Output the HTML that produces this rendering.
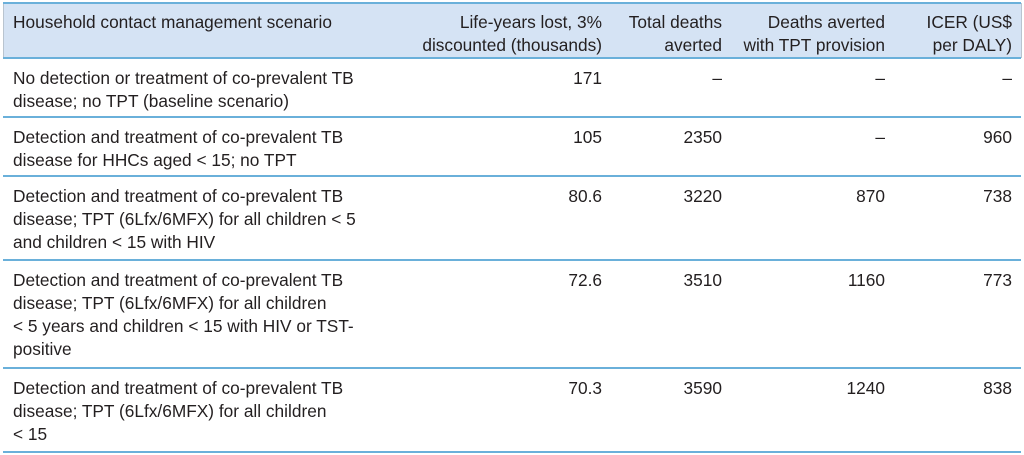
<!DOCTYPE html>
<html><head><meta charset="utf-8"><style>
body{margin:0;width:1024px;height:455px;background:#fff;position:relative;font-family:"Liberation Sans",sans-serif;font-size:17.3px;color:#231f20;overflow:hidden}
.hd{position:absolute;left:3px;top:3px;width:1017px;height:55px;background:#d5e3f4;border-left:1px solid #b9c4cf;border-right:1px solid #b9c4cf}
.ln{position:absolute;left:3px;width:1018px;height:2px;background:#6ab0da}
.t{position:absolute;line-height:23px;white-space:nowrap}
.r{text-align:right}
</style></head><body>
<div class="hd"></div>
<div class="ln" style="top:2px"></div>
<div class="ln" style="top:57px"></div>
<div class="ln" style="top:116px"></div>
<div class="ln" style="top:175px"></div>
<div class="ln" style="top:259px"></div>
<div class="ln" style="top:367px"></div>
<div class="ln" style="top:451px"></div>

<div class="t" style="left:13px;top:11px">Household contact management scenario</div>
<div class="t r" style="right:422px;top:11px">Life-years lost, 3%<br>discounted (thousands)</div>
<div class="t r" style="right:302px;top:11px">Total deaths<br>averted</div>
<div class="t r" style="right:139px;top:11px">Deaths averted<br>with TPT provision</div>
<div class="t r" style="right:12px;top:11px">ICER (US$<br>per DALY)</div>

<div class="t" style="left:13px;top:67px">No detection or treatment of co-prevalent TB<br>disease; no TPT (baseline scenario)</div>
<div class="t r" style="right:422px;top:67px">171</div>
<div class="t r" style="right:302px;top:67px">–</div>
<div class="t r" style="right:139px;top:67px">–</div>
<div class="t r" style="right:12px;top:67px">–</div>

<div class="t" style="left:13px;top:126px">Detection and treatment of co-prevalent TB<br>disease for HHCs aged &lt; 15; no TPT</div>
<div class="t r" style="right:422px;top:126px">105</div>
<div class="t r" style="right:302px;top:126px">2350</div>
<div class="t r" style="right:139px;top:126px">–</div>
<div class="t r" style="right:12px;top:126px">960</div>

<div class="t" style="left:13px;top:185px">Detection and treatment of co-prevalent TB<br>disease; TPT (6Lfx/6MFX) for all children &lt; 5<br>and children &lt; 15 with HIV</div>
<div class="t r" style="right:422px;top:185px">80.6</div>
<div class="t r" style="right:302px;top:185px">3220</div>
<div class="t r" style="right:139px;top:185px">870</div>
<div class="t r" style="right:12px;top:185px">738</div>

<div class="t" style="left:13px;top:269px">Detection and treatment of co-prevalent TB<br>disease; TPT (6Lfx/6MFX) for all children<br>&lt; 5 years and children &lt; 15 with HIV or TST-<br>positive</div>
<div class="t r" style="right:422px;top:269px">72.6</div>
<div class="t r" style="right:302px;top:269px">3510</div>
<div class="t r" style="right:139px;top:269px">1160</div>
<div class="t r" style="right:12px;top:269px">773</div>

<div class="t" style="left:13px;top:377px">Detection and treatment of co-prevalent TB<br>disease; TPT (6Lfx/6MFX) for all children<br>&lt; 15</div>
<div class="t r" style="right:422px;top:377px">70.3</div>
<div class="t r" style="right:302px;top:377px">3590</div>
<div class="t r" style="right:139px;top:377px">1240</div>
<div class="t r" style="right:12px;top:377px">838</div>
</body></html>
